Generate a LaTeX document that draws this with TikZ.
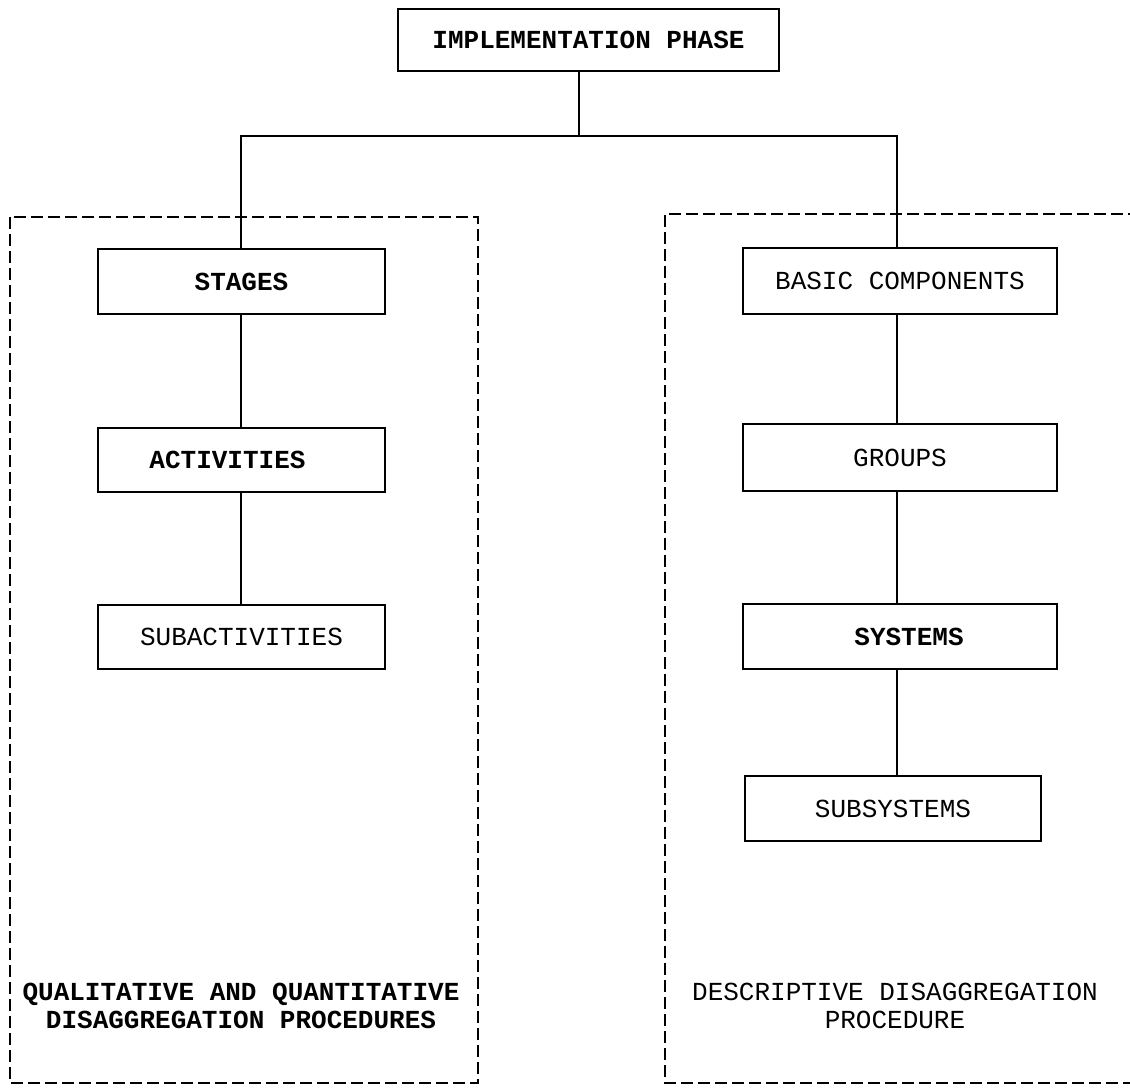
\documentclass[tikz,border=0pt]{standalone}
\usepackage{fontspec}
\setmonofont{Liberation Mono}
\begin{document}
\begin{tikzpicture}[x=1pt,y=-1pt,
  every node/.style={font=\ttfamily\fontsize{26}{28}\selectfont},
  box/.style={draw,line width=2pt,inner sep=0pt,anchor=north west},
  lbl/.style={align=center,font=\ttfamily\fontsize{26}{28}\selectfont},
  conn/.style={line width=2pt},
  region/.style={line width=2.2pt,dash pattern=on 12pt off 5pt}]
\useasboundingbox (0,0) rectangle (1130,1091);
\fill[white] (0,0) rectangle (1130,1091);
% dashed regions
\draw[region] (10,217) rectangle (478,1083);
\draw[region] (1140,214) -- (665,214) -- (665,1083) -- (1140,1083);
% boxes
\node[box,minimum width=381pt,minimum height=62pt] (impl) at (397,8) {\bfseries IMPLEMENTATION PHASE};
\node[box,minimum width=287pt,minimum height=65pt] (stages) at (97,248) {\bfseries STAGES};
\node[box,minimum width=287pt,minimum height=64pt] (act) at (97,427) {\bfseries\hspace*{-28pt}ACTIVITIES};
\node[box,minimum width=287pt,minimum height=64pt] (subact) at (97,604) {SUBACTIVITIES};
\node[box,minimum width=314pt,minimum height=66pt] (basic) at (742,247) {BASIC COMPONENTS};
\node[box,minimum width=314pt,minimum height=67pt] (groups) at (742,423) {GROUPS};
\node[box,minimum width=314pt,minimum height=65pt] (systems) at (742,603) {\bfseries\hspace*{18pt}SYSTEMS};
\node[box,minimum width=296pt,minimum height=65pt] (subsys) at (744,775) {SUBSYSTEMS};
% connectors
\coordinate (jl) at (241,136);
\coordinate (jm) at (579,136);
\coordinate (jr) at (897,136);
\draw[conn] (impl.south -| jm) -- (jm);
\draw[conn] (stages.north -| jl) -- (jl) -- (jr) -- (basic.north -| jr);
\draw[conn] (stages.south -| jl) -- (act.north -| jl);
\draw[conn] (act.south -| jl) -- (subact.north -| jl);
\draw[conn] (basic.south -| jr) -- (groups.north -| jr);
\draw[conn] (groups.south -| jr) -- (systems.north -| jr);
\draw[conn] (systems.south -| jr) -- (subsys.north -| jr);
% labels
\node[lbl] (qlab) at (241,1006) {\bfseries QUALITATIVE AND QUANTITATIVE\\ \bfseries DISAGGREGATION PROCEDURES};
\node[lbl] (dlab) at (895,1006) {DESCRIPTIVE DISAGGREGATION\\PROCEDURE};
\end{tikzpicture}
\end{document}
